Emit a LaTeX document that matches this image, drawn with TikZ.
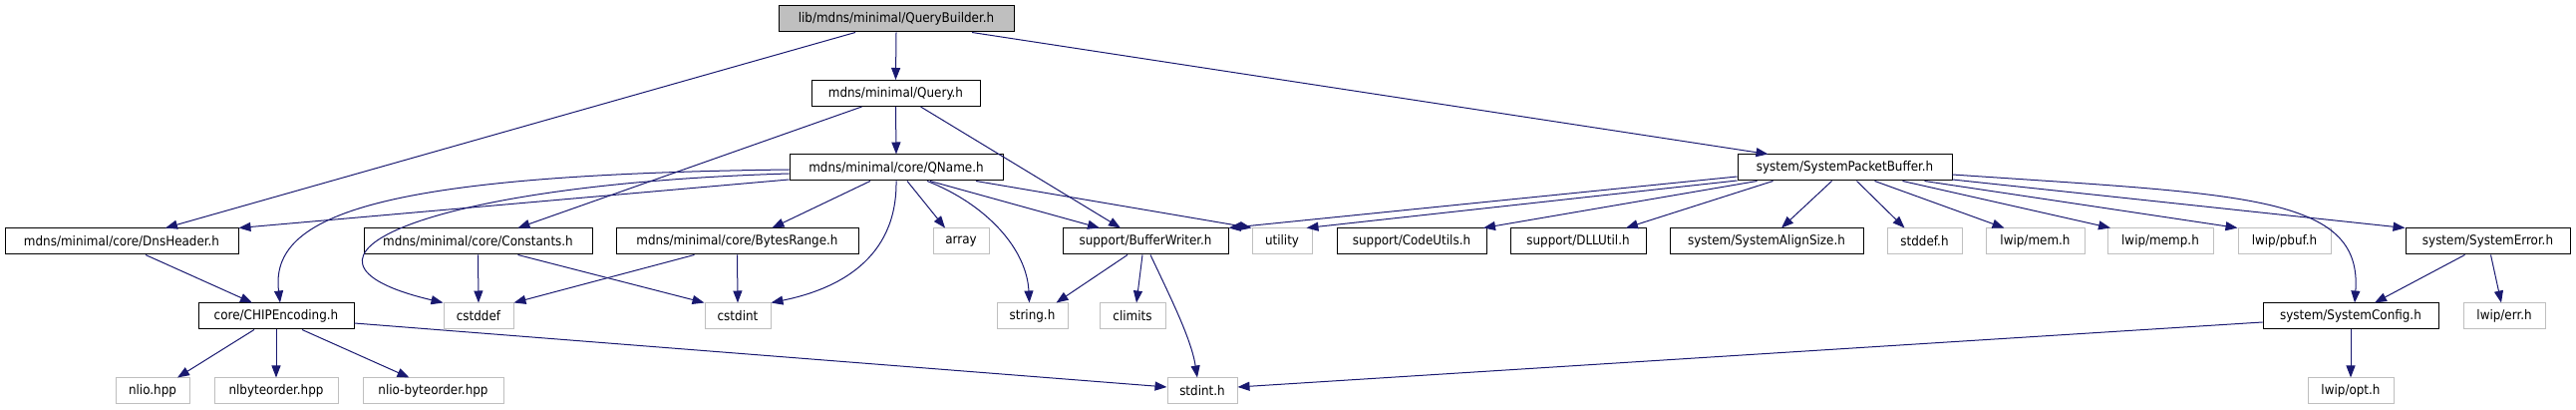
\documentclass[tikz,border=0pt]{standalone}
\usepackage{fontspec}
\setmainfont{DejaVu Sans Condensed}
\usetikzlibrary{arrows.meta}
\definecolor{cE}{HTML}{191970}
\definecolor{cG}{HTML}{BFBFBF}
\tikzset{
  hdr/.style={draw=black,line width=1pt,fill=white,minimum height=26pt,inner sep=0pt},
  ext/.style={hdr,draw=cG},
  root/.style={hdr,fill=cG},
  dep/.style={-{Triangle[length=12pt,width=9pt]},line width=1pt,cE},
}

\begin{document}
\begin{tikzpicture}[x=1pt,y=-1pt,every node/.style={font=\fontsize{13.3}{16}\selectfont}]
  \useasboundingbox (0,0) rectangle (2584,411);
  % rows 1-3
  \node[root,minimum width=236pt] (qb) at (899,19) {lib/mdns/minimal/QueryBuilder.h};
  \node[hdr,minimum width=169pt] (qry) at (898.5,93.5) {mdns/minimal/Query.h};
  \node[hdr,minimum width=214pt] (qnm) at (899,168) {mdns/minimal/core/QName.h};
  \node[hdr,minimum width=215pt] (spb) at (1850.5,168) {system/SystemPacketBuffer.h};
  % row 4
  \node[hdr,minimum width=234pt] (dnsh) at (122,242) {mdns/minimal/core/DnsHeader.h};
  \node[hdr,minimum width=229pt] (cnst) at (479.5,242) {mdns/minimal/core/Constants.h};
  \node[hdr,minimum width=243pt] (bytr) at (739.5,242) {mdns/minimal/core/BytesRange.h};
  \node[ext,minimum width=56pt] (arr) at (964,242) {array};
  \node[hdr,minimum width=166pt] (bufw) at (1149,242) {support/BufferWriter.h};
  \node[ext,minimum width=60pt] (util) at (1286,242) {utility};
  \node[hdr,minimum width=150pt] (cdu) at (1416,242) {support/CodeUtils.h};
  \node[hdr,minimum width=136pt] (dll) at (1583,242) {support/DLLUtil.h};
  \node[hdr,minimum width=194pt] (salign) at (1772,242) {system/SystemAlignSize.h};
  \node[ext,minimum width=75pt] (stdd) at (1930.5,242) {stddef.h};
  \node[ext,minimum width=99pt] (mem) at (2041.5,242) {lwip/mem.h};
  \node[ext,minimum width=106pt] (memp) at (2167,242) {lwip/memp.h};
  \node[ext,minimum width=93pt] (pbuf) at (2291.5,242) {lwip/pbuf.h};
  \node[hdr,minimum width=165pt] (serr) at (2495.5,242) {system/SystemError.h};
  % row 5
  \node[hdr,minimum width=156pt] (chip) at (277,317) {core/CHIPEncoding.h};
  \node[ext,minimum width=70pt] (cstdd) at (480,317) {cstddef};
  \node[ext,minimum width=66pt] (cstdi) at (740,317) {cstdint};
  \node[ext,minimum width=71pt] (strh) at (1035.5,317) {string.h};
  \node[ext,minimum width=66pt] (clim) at (1136,317) {climits};
  \node[hdr,minimum width=176pt] (scfg) at (2358,317) {system/SystemConfig.h};
  \node[ext,minimum width=82pt] (errh) at (2512,317) {lwip/err.h};
  % row 6
  \node[ext,minimum width=74pt] (nlio) at (153,392) {nlio.hpp};
  \node[ext,minimum width=124pt] (nlbo) at (277,392) {nlbyteorder.hpp};
  \node[ext,minimum width=141pt] (nlbo2) at (434.5,392) {nlio-byteorder.hpp};
  \node[ext,minimum width=70pt] (stdi) at (1206,392) {stdint.h};
  \node[ext,minimum width=86pt] (opt) at (2358,392) {lwip/opt.h};

  % QueryBuilder.h and Query.h
  \draw[dep] (qb.south) -- (qry.north);
  \draw[dep] ([xshift=-41pt]qb.south) -- ([xshift=44pt]dnsh.north);
  \draw[dep] ([xshift=76pt]qb.south) -- ([xshift=-77pt]spb.north);
  \draw[dep] (qry.south) -- (qnm.north);
  \draw[dep] ([xshift=-34pt]qry.south) -- ([xshift=40pt]cnst.north);
  \draw[dep] ([xshift=25pt]qry.south) -- ([xshift=-25pt]bufw.north);
  % QName.h
  \draw[dep] ([yshift=-12pt]qnm.west) -- (dnsh.north east);
  \draw[dep] ([yshift=-2pt]qnm.west) .. controls (380,175) and (270,215) .. ([xshift=4pt]chip.north);
  \draw[dep] ([yshift=-6pt]qnm.west) .. controls (420,185) and (260,260) .. (cstdd.north west);
  \draw[dep] ([xshift=-26pt]qnm.south) -- ([xshift=35pt]bytr.north);
  \draw[dep] ([xshift=11pt]qnm.south) -- ([xshift=-16pt]arr.north);
  \draw[dep] ([xshift=34pt]qnm.south) -- ([xshift=-46pt]bufw.north);
  \draw[dep] ([xshift=80pt]qnm.south) -- (util.north west);
  \draw[dep] ([xshift=31pt]qnm.south) .. controls (990,205) and (1030,250) .. ([xshift=-3pt]strh.north);
  \draw[dep] (qnm.south) .. controls (900,260) and (840,290) .. (cstdi.north east);
  % core headers
  \draw[dep] (cnst.south) -- (cstdd.north);
  \draw[dep] ([xshift=40pt]cnst.south) -- (cstdi.north west);
  \draw[dep] ([xshift=-43pt]bytr.south) -- (cstdd.north east);
  \draw[dep] (bytr.south) -- (cstdi.north);
  \draw[dep] ([xshift=24pt]dnsh.south) -- ([xshift=-24pt]chip.north);
  \draw[dep] ([xshift=-22pt]chip.south) -- ([xshift=25pt]nlio.north);
  \draw[dep] (chip.south) -- (nlbo.north);
  \draw[dep] ([xshift=26pt]chip.south) -- ([xshift=-24pt]nlbo2.north);
  \draw[dep] ([yshift=-7pt]chip.east) -- ([yshift=4pt]stdi.west);
  % BufferWriter.h
  \draw[dep] ([xshift=-18pt]bufw.south) -- ([xshift=24pt]strh.north);
  \draw[dep] ([xshift=-3pt]bufw.south) -- ([xshift=4pt]clim.north);
  \draw[dep] ([xshift=5pt]bufw.south) .. controls (1175,300) and (1195,340) .. ([xshift=-5pt]stdi.north);
  % SystemPacketBuffer.h
  \draw[dep] ([yshift=-9pt]spb.west) -- (bufw.north east);
  \draw[dep] ([yshift=-13pt]spb.west) -- ([xshift=-6pt]util.north east);
  \draw[dep] ([xshift=-88pt]spb.south) -- ([xshift=72pt]cdu.north);
  \draw[dep] ([xshift=-72pt]spb.south) -- ([xshift=48pt]dll.north);
  \draw[dep] ([xshift=-13pt]spb.south) -- ([xshift=15pt]salign.north);
  \draw[dep] ([xshift=12pt]spb.south) -- ([xshift=-20pt]stdd.north);
  \draw[dep] ([xshift=30pt]spb.south) -- ([xshift=-31pt]mem.north);
  \draw[dep] ([xshift=58pt]spb.south) -- ([xshift=-50pt]memp.north);
  \draw[dep] ([xshift=80pt]spb.south) -- ([xshift=-47pt]pbuf.north);
  \draw[dep] ([yshift=-12pt]spb.east) -- (serr.north west);
  \draw[dep] ([yshift=-7pt]spb.east) .. controls (2250,195) and (2370,195) .. ([xshift=4pt]scfg.north);
  % system headers
  \draw[dep] ([xshift=-23pt]serr.south) -- ([xshift=24pt]scfg.north);
  \draw[dep] ([xshift=3pt]serr.south) -- ([xshift=-3pt]errh.north);
  \draw[dep] (scfg.south) -- (opt.north);
  \draw[dep] ([yshift=-6pt]scfg.west) -- ([yshift=4pt]stdi.east);
\end{tikzpicture}
\end{document}
